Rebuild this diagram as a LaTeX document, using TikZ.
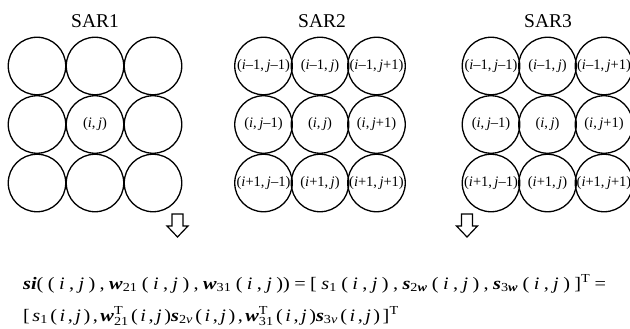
\documentclass[tikz,border=0pt]{standalone}
\usepackage{amsmath}
\usepackage{fontspec}
\setmainfont{Liberation Serif}
\newfontfamily\fml[FakeStretch=1.16]{Liberation Serif}
\newcommand{\bi}[1]{\textbf{\textit{#1}}}
\newcommand{\sbs}[1]{$_{\text{#1}}$}
\newcommand{\sps}[1]{$^{\text{#1}}$}
\newcommand{\sbsp}[2]{$^{\text{#1}}_{\text{#2}}$}
\newcommand{\gp}{\hskip 2.5pt plus 1pt\relax}
\newcommand{\pij}{\gp(\gp\textit{i}\gp,\gp\textit{j}\gp)}
\newcommand{\cm}{\gp,\gp}
\newcommand{\lab}[2]{(\textit{i}#1,\,\textit{j}#2)}
\tikzset{
  cell/.style={draw, circle, line width=1.3pt, minimum size=57.5pt, inner sep=0pt, font=\fontsize{14.5}{15}\selectfont},
  title/.style={font=\fontsize{19.5}{20}\selectfont, anchor=base},
  formula/.style={font=\fml\fontsize{17.5}{18}\selectfont, anchor=base west, inner sep=0pt},
  hollowarrow/.style={draw, line width=1.2pt, fill=white, line join=miter}
}
\begin{document}
\begin{tikzpicture}[x=1pt,y=-1pt]
\useasboundingbox (0,0) rectangle (630,329);
% titles
\node[title] (t1) at (95,28) {SAR1};
\node[title] (t2) at (322,28) {SAR2};
\node[title] (t3) at (548,28) {SAR3};
% SAR1
\foreach \r/\yy in {1/66,2/124.5,3/183}{
  \foreach \c/\xx in {1/37,2/95,3/153}{
    \node[cell] (a\r\c) at (\xx,\yy) {};
  }
}
\node[font=\fontsize{14.5}{15}\selectfont] (a22l) at (a22) {\lab{}{}};
% SAR2 and SAR3
\foreach \g/\xa/\xb/\xc in {b/263.5/320/376.5, c/491/547.5/604}{
  \node[cell] (\g11) at (\xa,66)    {\lab{–1}{–1}};
  \node[cell] (\g12) at (\xb,66)    {\lab{–1}{}};
  \node[cell] (\g13) at (\xc,66)    {\lab{–1}{+1}};
  \node[cell] (\g21) at (\xa,124.5) {\lab{}{–1}};
  \node[cell] (\g22) at (\xb,124.5) {\lab{}{}};
  \node[cell] (\g23) at (\xc,124.5) {\lab{}{+1}};
  \node[cell] (\g31) at (\xa,183)   {\lab{+1}{–1}};
  \node[cell] (\g32) at (\xb,183)   {\lab{+1}{}};
  \node[cell] (\g33) at (\xc,183)   {\lab{+1}{+1}};
}
% hollow down arrows
\foreach \ax in {177.5,467}{
  \draw[hollowarrow] (\ax-5.5,214) -- (\ax+5.5,214) -- (\ax+5.5,226) -- (\ax+10.5,226)
     -- (\ax,237) -- (\ax-10.5,226) -- (\ax-5.5,226) -- cycle;
}
% formula
\node[formula] (f1) at (23,289) {\hbox to 583pt{\bi{si}(\pij\cm\bi{w}\sbs{21}\pij\cm\bi{w}\sbs{31}\pij)\gp=\gp[\gp\textit{s}\sbs{1}\pij\cm\bi{s}\sbs{2\bi{w}}\pij\cm\bi{s}\sbs{3\bi{w}}\pij\gp]\sps{T}\gp=}};
\node[formula] (f2) at (23,321) {[\gp\textit{s}\sbs{1}\pij\cm\bi{w}\sbsp{T}{21}\pij\bi{s}\sbs{2\textit{v}}\pij\cm\bi{w}\sbsp{T}{31}\pij\bi{s}\sbs{3\textit{v}}\pij\gp]\sps{T}};
\end{tikzpicture}
\end{document}
